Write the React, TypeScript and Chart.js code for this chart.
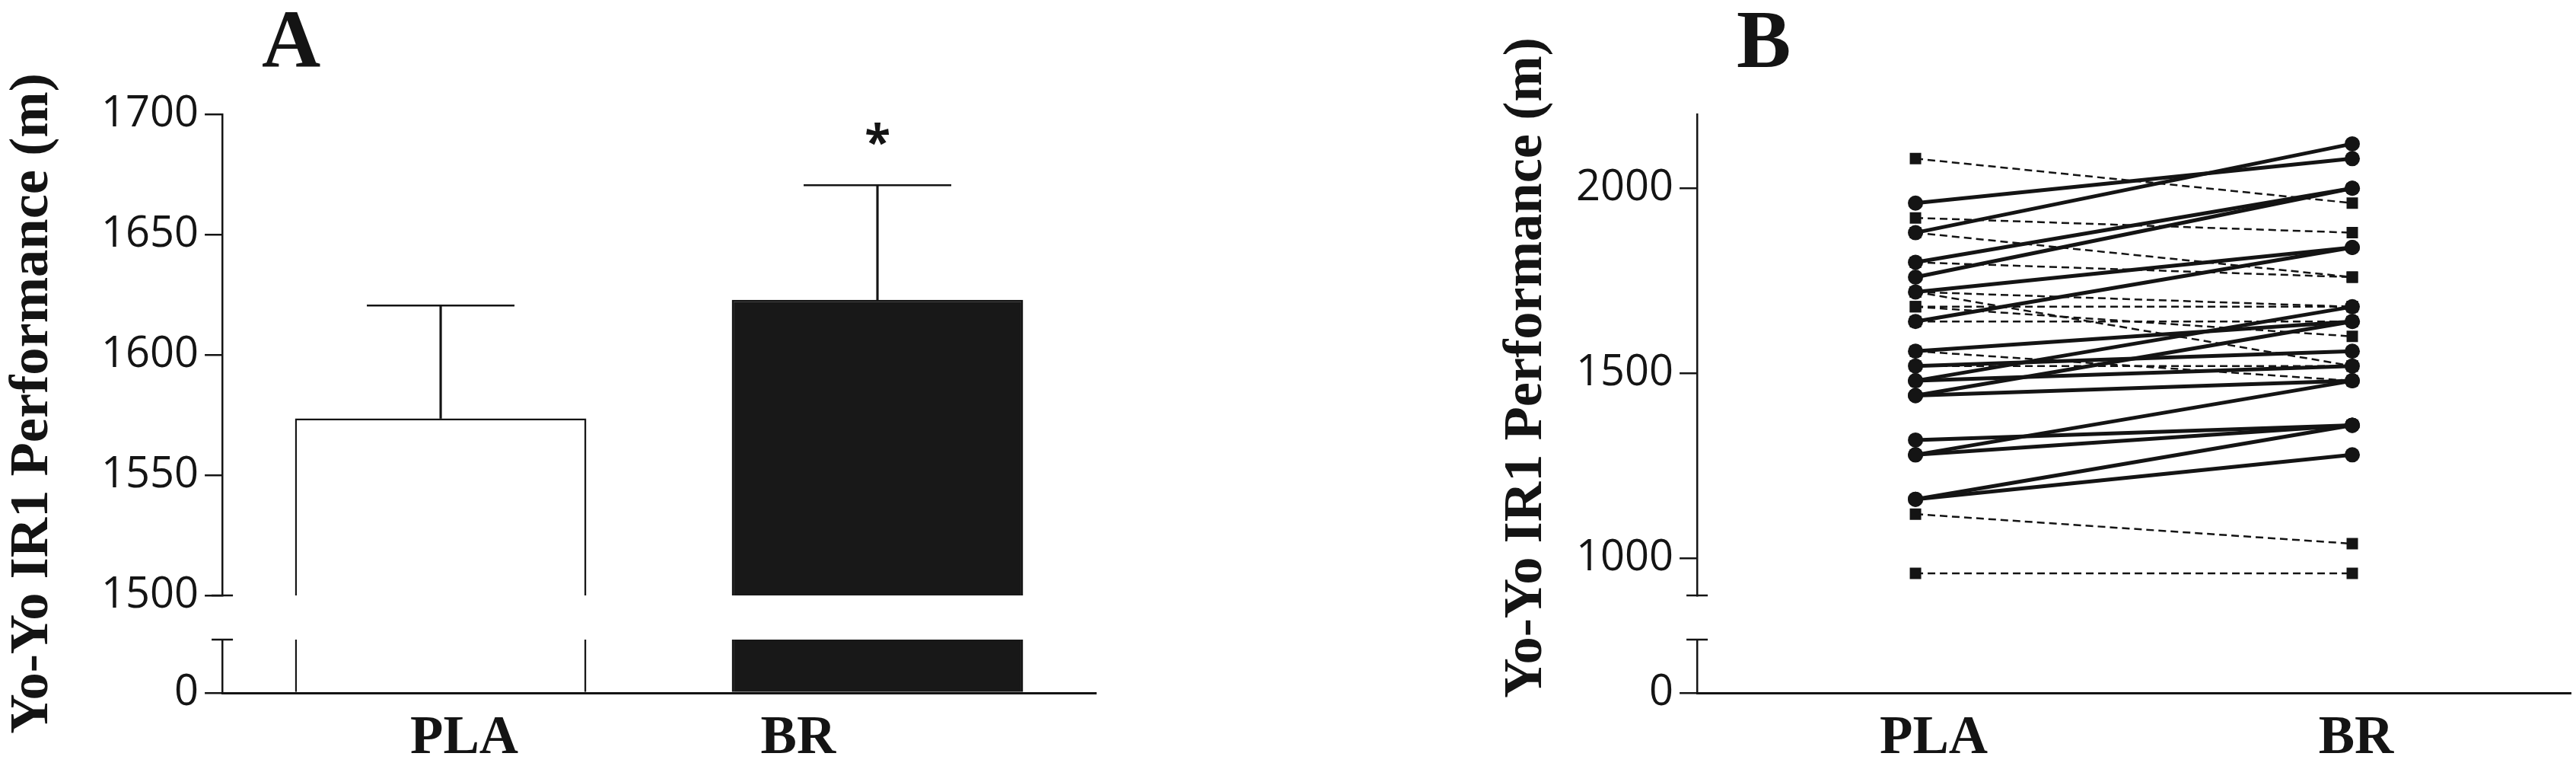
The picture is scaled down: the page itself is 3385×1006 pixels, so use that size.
import React, { useEffect, useRef } from 'react';
import { Chart, registerables } from 'chart.js';

Chart.register(...registerables);

// ---------- data ----------
const categories = ['PLA', 'BR'];
const meanPerformance = [1573.6, 1622.9];
const errorTop = [1620.5, 1670.5];
const significance = ['', '*'];
const ticksA = [1500, 1550, 1600, 1650, 1700];
const ticksB = [1000, 1500, 2000];
const ticksLower = [0];

// individual responses (panel B)
const improvedPLA = [1960, 1880, 1800, 1760, 1720, 1640, 1560, 1520, 1480, 1480, 1440, 1440, 1320, 1280, 1280, 1160, 1160];
const improvedBR = [2080, 2120, 2000, 2000, 1840, 1840, 1640, 1560, 1680, 1520, 1640, 1480, 1360, 1360, 1480, 1360, 1280];
const notImprovedPLA = [2080, 1920, 1880, 1800, 1720, 1680, 1680, 1720, 1560, 1120, 960, 1640, 1520];
const notImprovedBR = [1960, 1880, 1760, 1760, 1680, 1680, 1600, 1520, 1480, 1040, 960, 1640, 1520];

// ---------- style ----------
const INK = '#141414';
const FILL = '#181818';
const SERIF = '"Liberation Serif", "Times New Roman", serif';
const SANS = '"Open Sans", "Noto Sans", sans-serif';
const AXIS_TITLE = 'Yo-Yo IR1 Performance (m)';

Chart.defaults.font.family = SANS;

const annotate = {
  id: 'annotate',
  afterDraw(chart: any, _args: any, opts: any) {
    const { ctx, chartArea } = chart;
    const top = chart.scales.yTop;
    const bot = chart.scales.yBot;
    ctx.save();
    // axis break caps
    ctx.strokeStyle = INK;
    ctx.lineWidth = 2.5;
    const ax = top.right;
    ctx.beginPath();
    ctx.moveTo(ax - 14, top.bottom);
    ctx.lineTo(ax + 14, top.bottom);
    ctx.moveTo(ax - 14, bot.top);
    ctx.lineTo(ax + 14, bot.top);
    ctx.stroke();
    ctx.fillStyle = INK;
    // y-axis title
    ctx.save();
    ctx.font = `bold 72.5px ${SERIF}`;
    ctx.textAlign = 'center';
    ctx.textBaseline = 'alphabetic';
    ctx.translate(chartArea.left + opts.titleX, (chartArea.top + chartArea.bottom) / 2 + opts.titleDy);
    ctx.rotate(-Math.PI / 2);
    ctx.fillText(AXIS_TITLE, 0, 0);
    ctx.restore();
    // panel letter
    ctx.font = `bold 107px ${SERIF}`;
    ctx.textAlign = 'left';
    ctx.textBaseline = 'alphabetic';
    ctx.fillText(opts.panel, chartArea.left + 52, chartArea.top - 62);
    // significance marks
    if (opts.marks) {
      const xs = chart.scales.x;
      ctx.font = `bold 62px ${SANS}`;
      ctx.textAlign = 'center';
      opts.marks.forEach((m: string, i: number) => {
        if (!m) return;
        const px = xs.getPixelForValue(i);
        const cy = top.getPixelForValue(errorTop[i]) - 67;
        const mt = ctx.measureText(m);
        ctx.fillText(m, px, cy + (mt.actualBoundingBoxAscent - mt.actualBoundingBoxDescent) / 2);
      });
    }
    ctx.restore();
  },
};

function tickStyle() {
  return {
    font: { family: SANS, size: 56 },
    color: INK,
    padding: 8,
    callback: (v: any) => String(v),
  };
}
const axisGrid = { display: true, drawOnChartArea: false, drawTicks: true, tickLength: 23, lineWidth: 2.5, color: INK };
const axisBorder = { display: true, color: INK, width: 2.5 };

function buildScales(topMin: number, topMax: number, topTicks: number[], labelMin: number, labelMax: number) {
  return {
    x: {
      type: 'category',
      position: 'bottom',
      offset: true,
      grid: { display: false, drawTicks: false, offset: true },
      border: { display: true, color: INK, width: 3 },
      ticks: { display: false },
    },
    xl: {
      type: 'linear',
      position: 'bottom',
      offset: false,
      bounds: 'data',
      min: labelMin,
      max: labelMax,
      afterBuildTicks: (s: any) => {
        s.ticks = categories.map((_, i) => ({ value: i }));
      },
      ticks: {
        autoSkip: false,
        maxRotation: 0,
        padding: 25,
        color: INK,
        font: { family: SERIF, size: 71, weight: 'bold', lineHeight: 1 },
        callback: (v: any) => categories[v] ?? '',
      },
      grid: { display: false, drawTicks: false, offset: false },
      border: { display: false },
    },
    yBot: {
      type: 'linear',
      position: 'left',
      stack: 'y',
      stackWeight: 70,
      weight: 1,
      display: true,
      min: 0,
      max: 100,
      afterBuildTicks: (s: any) => {
        s.ticks = ticksLower.map((v) => ({ value: v }));
      },
      ticks: tickStyle(),
      grid: axisGrid,
      border: axisBorder,
    },
    yGap: {
      type: 'linear',
      position: 'left',
      stack: 'y',
      stackWeight: 58,
      weight: 2,
      display: true,
      min: 0,
      max: 1,
      ticks: { display: false },
      grid: { display: false, drawTicks: false },
      border: { display: false },
    },
    yTop: {
      type: 'linear',
      position: 'left',
      stack: 'y',
      stackWeight: 632.7,
      weight: 3,
      display: true,
      min: topMin,
      max: topMax,
      afterBuildTicks: (s: any) => {
        s.ticks = topTicks.map((v) => ({ value: v }));
      },
      ticks: tickStyle(),
      grid: axisGrid,
      border: axisBorder,
    },
  };
}

function configA(): any {
  const barCommon = {
    type: 'bar',
    data: meanPerformance,
    backgroundColor: ['#ffffff', FILL],
    borderColor: INK,
    borderWidth: 2.5,
    grouped: false,
    barPercentage: 0.667,
    categoryPercentage: 1,
    clip: 0,
    order: 2,
  };
  return {
    type: 'bar',
    data: {
      labels: categories,
      datasets: [
        {
          type: 'bar',
          label: 'SD',
          data: meanPerformance.map((m, i) => [m, errorTop[i]]),
          yAxisID: 'yTop',
          xAxisID: 'x',
          backgroundColor: INK,
          borderWidth: 0,
          barThickness: 2.5,
          grouped: false,
          order: 0,
        },
        {
          type: 'line',
          label: 'cap',
          data: errorTop,
          yAxisID: 'yTop',
          xAxisID: 'x',
          showLine: false,
          pointStyle: 'line',
          pointRadius: 97,
          pointHoverRadius: 97,
          pointBorderWidth: 2.5,
          pointBorderColor: INK,
          borderColor: INK,
          clip: false,
          order: 0,
        },
        { ...barCommon, label: 'upper', yAxisID: 'yTop', xAxisID: 'x' },
        { ...barCommon, label: 'lower', yAxisID: 'yBot', xAxisID: 'x' },
      ],
    },
    options: {
      responsive: false,
      animation: false,
      devicePixelRatio: 1,
      layout: { autoPadding: false, padding: { top: 150, bottom: -25, left: 125, right: 60 } },
      scales: buildScales(1500, 1700, ticksA, -0.7244, 1.891),
      plugins: {
        legend: { display: false },
        tooltip: { enabled: false },
        title: { display: false },
        annotate: { panel: 'A', marks: significance, titleX: -230, titleDy: 0 },
      },
    },
    plugins: [annotate],
  };
}

function configB(): any {
  const solid = improvedPLA.map((p, i) => ({
    label: `improved ${i + 1}`,
    data: [p, improvedBR[i]],
    yAxisID: 'yTop',
    xAxisID: 'x',
    borderColor: INK,
    borderWidth: 5,
    pointStyle: 'circle',
    pointRadius: 10,
    pointHoverRadius: 10,
    pointBackgroundColor: INK,
    pointBorderColor: INK,
    pointBorderWidth: 0,
  }));
  const dashed = notImprovedPLA.map((p, i) => ({
    label: `not improved ${i + 1}`,
    data: [p, notImprovedBR[i]],
    yAxisID: 'yTop',
    xAxisID: 'x',
    borderColor: INK,
    borderWidth: 2.5,
    borderDash: [10, 6],
    pointStyle: 'rect',
    pointRadius: 10.6,
    pointHoverRadius: 10.6,
    pointBackgroundColor: INK,
    pointBorderColor: INK,
    pointBorderWidth: 0,
  }));
  return {
    type: 'line',
    data: { labels: categories, datasets: [...solid, ...dashed] },
    options: {
      responsive: false,
      animation: false,
      devicePixelRatio: 1,
      layout: { autoPadding: false, padding: { top: 150, bottom: -25, left: 100, right: 7 } },
      scales: buildScales(900, 2200, ticksB, -0.5603, 1.508),
      plugins: {
        legend: { display: false },
        tooltip: { enabled: false },
        title: { display: false },
        annotate: { panel: 'B', titleX: -205, titleDy: -47 },
      },
    },
    plugins: [annotate],
  };
}

export default function App() {
  const refA = useRef<HTMLCanvasElement>(null);
  const refB = useRef<HTMLCanvasElement>(null);
  useEffect(() => {
    const a = new Chart(refA.current as HTMLCanvasElement, configA());
    const b = new Chart(refB.current as HTMLCanvasElement, configB());
    return () => {
      a.destroy();
      b.destroy();
    };
  }, []);
  return (
    <div style={{ position: 'absolute', left: 0, top: 0, width: 3385, height: 1006, background: '#ffffff' }}>
      <canvas ref={refA} width={1500} height={1006} style={{ position: 'absolute', left: 0, top: 0 }} />
      <canvas ref={refB} width={1422} height={1006} style={{ position: 'absolute', left: 1963, top: 0 }} />
    </div>
  );
}
